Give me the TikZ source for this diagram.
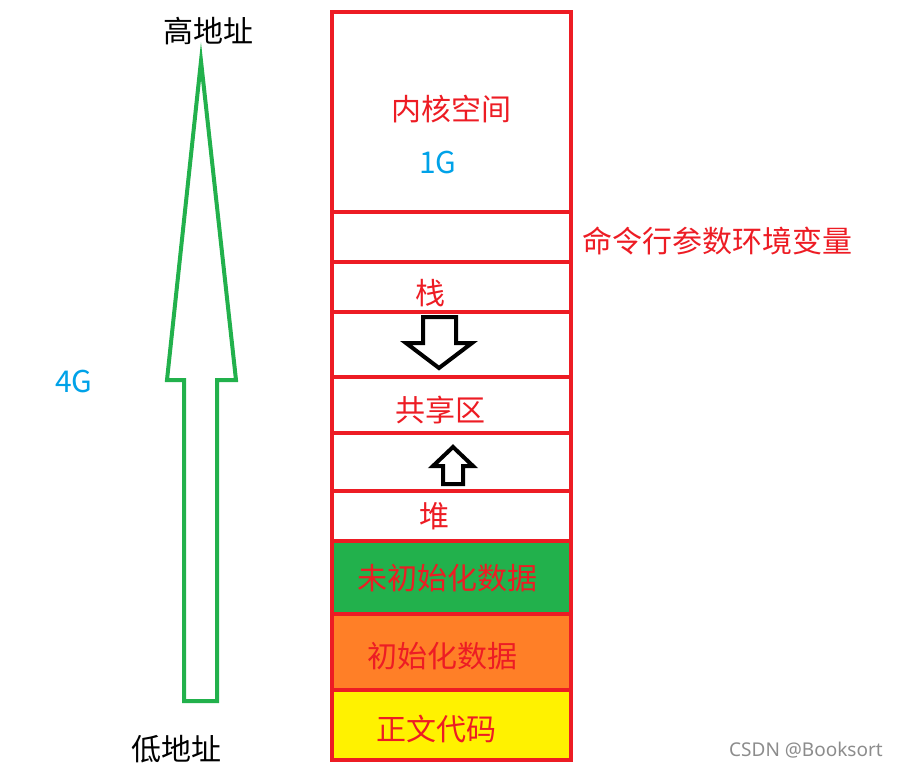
\documentclass[tikz,border=0pt]{standalone}
\usepackage{fontspec}
\setmainfont{Noto Sans CJK SC}
\newfontfamily\markfont{Noto Sans}
\usetikzlibrary{positioning}
\definecolor{segred}{RGB}{237,28,36}
\definecolor{segblue}{RGB}{0,162,232}
\definecolor{seggreen}{RGB}{34,177,76}
\definecolor{segorange}{RGB}{255,127,39}
\definecolor{segyellow}{RGB}{255,242,0}

\begin{document}
\begin{tikzpicture}[x=1pt, y=-1pt,
  seglbl/.style={font=\fontsize{30}{32}\selectfont, text=segred, inner sep=0pt},
  numlbl/.style={font=\fontsize{30}{32}\selectfont, text=segblue, inner sep=0pt},
  addrlbl/.style={font=\fontsize{30}{32}\selectfont, text=black, inner sep=0pt},
  divider/.style={draw=segred, line width=4.5pt},
  growarr/.style={draw=black, line width=4pt, line join=miter, fill=white},
  bigarr/.style={draw=seggreen, line width=4pt, line join=miter}
]
\useasboundingbox (0,0) rectangle (898,768);

% coloured data segments
\fill[seggreen]  (332,541) rectangle (571,614);
\fill[segorange] (332,614) rectangle (571,690);
\fill[segyellow] (332,690) rectangle (571,760);

% address space column
\draw[divider] (332,12) rectangle (571,760);
\foreach \yy in {212,262,312,377,433,491,541,614,690}
  \draw[divider] (332,\yy) -- (571,\yy);

% stack grows down, heap grows up
\draw[growarr] (423,317) -- (456,317) -- (456,343) -- (472,343)
  -- (439,368) -- (406,343) -- (423,343) -- cycle;
\draw[growarr] (443,484) -- (463,484) -- (463,466) -- (473,466)
  -- (453,447) -- (433,466) -- (443,466) -- cycle;

% address direction
\draw[bigarr] (184,701) -- (217,701) -- (217,380) -- (236,380)
  -- (201,61) -- (167,380) -- (184,380) -- cycle;

\node[seglbl] (kernel) at (451,109) {内核空间};
\node[numlbl, below=54pt of kernel.center, anchor=center, xshift=-13pt] (kernelsz) {1G};
\node[seglbl, anchor=west] (cmdline) at (582,241) {命令行参数环境变量};
\node[seglbl] (stack) at (430,293) {栈};
\node[seglbl] (shared) at (440,410) {共享区};
\node[seglbl] (heap) at (434,516) {堆};
\node[seglbl] (bss) at (447,578) {未初始化数据};
\node[seglbl] (data) at (442,656) {初始化数据};
\node[seglbl] (text) at (436,729) {正文代码};

\node[addrlbl] (high) at (208,31) {高地址};
\node[addrlbl] (low) at (176,749) {低地址};
\node[numlbl] (total) at (74,382) {4G};

\node[font=\markfont\fontsize{19}{21}\selectfont, text=black!45, inner sep=0pt]
  (mark) at (806,750) {CSDN @Booksort};
\end{tikzpicture}
\end{document}
